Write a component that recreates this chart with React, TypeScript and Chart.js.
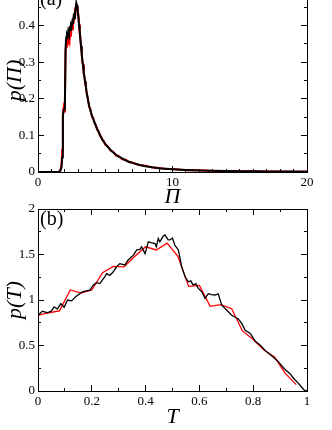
import React, { useEffect, useRef } from "react";
import { Chart, registerables } from "chart.js";
Chart.register(...registerables);

// ---------- Panel (a): p(Π) ----------
const piBlack = [0, 1.5, 1.6, 1.7, 1.75, 1.8, 1.85, 1.9, 1.95, 2.0, 2.05, 2.1, 2.15, 2.2, 2.25, 2.3, 2.35, 2.4, 2.45, 2.5, 2.55, 2.6, 2.65, 2.7, 2.75, 2.8, 2.85, 2.9, 2.95, 3.0, 3.05, 3.1, 3.15, 3.2, 3.25, 3.3, 3.35, 3.4, 3.45, 3.5, 3.55, 3.6, 3.7, 3.8, 3.9, 4.0, 4.1, 4.2, 4.3, 4.4, 4.5, 4.6, 4.7, 4.8, 4.9, 5.0, 5.2, 5.4, 5.6, 5.8, 6.0, 6.25, 6.5, 6.75, 7.0, 7.5, 8.0, 8.5, 9.0, 9.5, 10, 11, 12, 13, 14, 15, 16, 17, 18, 19, 20];
const pPiBlack = [0, 0, 0.001, 0.006, 0.015, 0.04, 0.15, 0.168, 0.172, 0.185, 0.34, 0.368, 0.375, 0.37, 0.385, 0.378, 0.392, 0.388, 0.402, 0.398, 0.412, 0.41, 0.425, 0.42, 0.438, 0.445, 0.462, 0.455, 0.44, 0.425, 0.4, 0.385, 0.36, 0.345, 0.32, 0.305, 0.29, 0.272, 0.26, 0.248, 0.235, 0.222, 0.2, 0.182, 0.168, 0.155, 0.145, 0.136, 0.126, 0.118, 0.11, 0.102, 0.094, 0.088, 0.082, 0.077, 0.068, 0.06, 0.053, 0.047, 0.042, 0.037, 0.032, 0.028, 0.025, 0.02, 0.016, 0.013, 0.0105, 0.0088, 0.0075, 0.0055, 0.0042, 0.0033, 0.0027, 0.0022, 0.0018, 0.0015, 0.0013, 0.0011, 0.001];
const piRed = piBlack;
const pPiRed = [0, 0, 0.003, 0.01, 0.02, 0.06, 0.16, 0.175, 0.165, 0.19, 0.33, 0.35, 0.34, 0.362, 0.35, 0.372, 0.36, 0.385, 0.37, 0.405, 0.39, 0.42, 0.405, 0.43, 0.445, 0.45, 0.455, 0.45, 0.43, 0.43, 0.405, 0.378, 0.37, 0.34, 0.33, 0.3, 0.295, 0.268, 0.262, 0.244, 0.238, 0.218, 0.203, 0.178, 0.171, 0.152, 0.148, 0.133, 0.129, 0.115, 0.112, 0.1, 0.096, 0.086, 0.084, 0.075, 0.07, 0.058, 0.055, 0.045, 0.044, 0.035, 0.034, 0.027, 0.026, 0.019, 0.017, 0.012, 0.011, 0.0082, 0.008, 0.005, 0.0045, 0.003, 0.0029, 0.002, 0.002, 0.0014, 0.0014, 0.001, 0.0012];

// ---------- Panel (b): p(T) ----------
const tBlack = [0, 0.016, 0.035, 0.05, 0.06, 0.072, 0.085, 0.097, 0.11, 0.125, 0.14, 0.165, 0.18, 0.193, 0.205, 0.217, 0.23, 0.248, 0.255, 0.267, 0.28, 0.292, 0.304, 0.323, 0.335, 0.348, 0.354, 0.367, 0.379, 0.385, 0.398, 0.41, 0.42, 0.435, 0.44, 0.447, 0.453, 0.465, 0.472, 0.484, 0.49, 0.5, 0.509, 0.522, 0.534, 0.547, 0.559, 0.568, 0.577, 0.587, 0.596, 0.609, 0.621, 0.633, 0.645, 0.658, 0.67, 0.683, 0.702, 0.72, 0.733, 0.745, 0.758, 0.77, 0.789, 0.807, 0.826, 0.85, 0.863, 0.876, 0.894, 0.905, 0.919, 0.937, 0.95, 0.963, 0.975, 0.99, 1.0];
const pTBlack = [0.83, 0.877, 0.86, 0.88, 0.925, 0.9, 0.96, 0.92, 1.0, 0.99, 1.035, 1.09, 1.1, 1.108, 1.163, 1.19, 1.18, 1.255, 1.29, 1.27, 1.31, 1.365, 1.4, 1.385, 1.44, 1.475, 1.49, 1.55, 1.556, 1.585, 1.51, 1.64, 1.63, 1.62, 1.585, 1.677, 1.64, 1.7, 1.714, 1.66, 1.66, 1.68, 1.6, 1.55, 1.365, 1.255, 1.2, 1.21, 1.163, 1.18, 1.127, 1.09, 1.017, 1.07, 1.06, 1.055, 1.068, 0.943, 0.888, 0.833, 0.81, 0.79, 0.74, 0.668, 0.632, 0.55, 0.503, 0.43, 0.4, 0.367, 0.32, 0.28, 0.235, 0.19, 0.14, 0.1, 0.06, 0.01, 0.0];
const tRed = [0, 0.04, 0.08, 0.12, 0.16, 0.2, 0.24, 0.28, 0.32, 0.36, 0.4, 0.44, 0.48, 0.52, 0.56, 0.6, 0.64, 0.68, 0.72, 0.76, 0.8, 0.84, 0.88, 0.92, 0.96];
const pTRed = [0.83, 0.86, 0.88, 1.11, 1.075, 1.11, 1.3, 1.37, 1.365, 1.48, 1.585, 1.55, 1.625, 1.48, 1.15, 1.16, 0.93, 0.95, 0.905, 0.66, 0.565, 0.45, 0.37, 0.19, 0.07];

const SERIF = "'Liberation Serif', 'Times New Roman', serif";
const fmt = (v: number) => String(Number(Number(v).toFixed(3)));

type PanelCfg = {
  xMin: number; xMax: number; xMajor: number; xMinor: number;
  yMin: number; yMax: number; yMajor: number; yMinor: number;
  bottomH: number; leftW: number; rightW: number; padTop: number;
  xTitle: string; yTitle: string; label: string;
};

const noPad = (s: any) => { s.paddingTop = 0; s.paddingBottom = 0; s.paddingLeft = 0; s.paddingRight = 0; };

function buildScales(c: PanelCfg) {
  const tickFont = { family: SERIF, size: 13 };
  const titleFont = { family: SERIF, size: 22, style: "italic" as const };
  const base = (pos: string, min: number, max: number, step: number, len: number, border: boolean, weight: number) => ({
    type: "linear" as const,
    position: pos,
    min, max, weight,
    ticks: { display: false, stepSize: step, autoSkip: false, maxTicksLimit: 1000 },
    grid: { drawOnChartArea: false, drawTicks: true, tickLength: len, color: "#000", tickWidth: 1 },
    border: { display: border, color: "#000", width: 1 },
  });
  const x: any = base("bottom", c.xMin, c.xMax, c.xMajor, -6, true, 1);
  x.ticks = { display: true, stepSize: c.xMajor, autoSkip: false, maxTicksLimit: 1000, maxRotation: 0, padding: 9, font: tickFont, color: "#000", callback: (v: any) => fmt(v) };
  x.title = { display: true, text: c.xTitle, font: titleFont, color: "#000", padding: 0 };
  x.afterFit = (s: any) => { s.height = c.bottomH; noPad(s); };
  const xm: any = base("bottom", c.xMin, c.xMax, c.xMinor, -3, false, 0);
  xm.afterFit = (s: any) => { s.height = 0; noPad(s); };
  const xt: any = base("top", c.xMin, c.xMax, c.xMajor, -6, true, 1);
  xt.afterFit = (s: any) => { s.height = 0; noPad(s); };
  const xtm: any = base("top", c.xMin, c.xMax, c.xMinor, -3, false, 0);
  xtm.afterFit = (s: any) => { s.height = 0; noPad(s); };

  const y: any = base("left", c.yMin, c.yMax, c.yMajor, -6, true, 1);
  y.ticks = { display: true, stepSize: c.yMajor, autoSkip: false, maxTicksLimit: 1000, padding: 9, font: tickFont, color: "#000", callback: (v: any) => fmt(v) };
  y.title = { display: true, text: c.yTitle, font: titleFont, color: "#000", padding: { top: 2, bottom: 0 } };
  y.afterFit = (s: any) => { s.width = c.leftW; noPad(s); };
  const ym: any = base("left", c.yMin, c.yMax, c.yMinor, -3, false, 0);
  ym.afterFit = (s: any) => { s.width = 0; noPad(s); };
  const yr: any = base("right", c.yMin, c.yMax, c.yMajor, -6, true, 1);
  yr.afterFit = (s: any) => { s.width = c.rightW; noPad(s); };
  const yrm: any = base("right", c.yMin, c.yMax, c.yMinor, -3, false, 0);
  yrm.afterFit = (s: any) => { s.width = 0; noPad(s); };
  return { x, xm, xt, xtm, y, ym, yr, yrm };
}

function panelLabel(text: string) {
  return {
    id: "panelLabel",
    afterDraw(chart: any) {
      const { ctx, chartArea } = chart;
      ctx.save();
      ctx.font = `20px ${SERIF}`;
      ctx.fillStyle = "#000";
      ctx.textBaseline = "top";
      ctx.textAlign = "left";
      ctx.fillText(text, chartArea.left + 2, chartArea.top + 1);
      ctx.restore();
    },
  };
}

function Panel(props: { cfg: PanelCfg; top: number; height: number; black: { x: number[]; y: number[] }; red: { x: number[]; y: number[] }; lw: number }) {
  const ref = useRef<HTMLCanvasElement | null>(null);
  useEffect(() => {
    const c = props.cfg;
    const toPts = (xs: number[], ys: number[]) => xs.map((v, i) => ({ x: v, y: ys[i] }));
    const chart = new Chart(ref.current as HTMLCanvasElement, {
      type: "line",
      data: {
        datasets: [
          { data: toPts(props.black.x, props.black.y), borderColor: "#000", borderWidth: props.lw, pointRadius: 0, tension: 0, xAxisID: "x", yAxisID: "y" },
          { data: toPts(props.red.x, props.red.y), borderColor: "#ff0000", borderWidth: props.lw, pointRadius: 0, tension: 0, xAxisID: "x", yAxisID: "y" },
        ],
      },
      options: {
        animation: false,
        responsive: false,
        maintainAspectRatio: false,
        layout: { padding: { top: c.padTop, left: 0, right: 0, bottom: 0 } },
        plugins: { legend: { display: false }, tooltip: { enabled: false } },
        scales: buildScales(c) as any,
      },
      plugins: [panelLabel(c.label)],
    });
    return () => chart.destroy();
  }, []);
  return (
    <canvas
      ref={ref}
      width={332}
      height={props.height}
      style={{ position: "absolute", left: 0, top: props.top, width: 332, height: props.height }}
    />
  );
}

const cfgA: PanelCfg = {
  xMin: 0, xMax: 20, xMajor: 10, xMinor: 1,
  yMin: 0, yMax: 0.5, yMajor: 0.1, yMinor: 0.05,
  bottomH: 38, leftW: 38, rightW: 25, padTop: 0,
  xTitle: "Π", yTitle: "p(Π)", label: "(a)",
};
const cfgB: PanelCfg = {
  xMin: 0, xMax: 1, xMajor: 0.2, xMinor: 0.1,
  yMin: 0, yMax: 2, yMajor: 0.5, yMinor: 0.25,
  bottomH: 39, leftW: 38, rightW: 25, padTop: 9,
  xTitle: "T", yTitle: "p(T)", label: "(b)",
};

export default function App() {
  return (
    <div style={{ position: "fixed", left: 0, top: 0, width: 332, height: 430, overflow: "hidden", background: "#fff" }}>
      <Panel cfg={cfgA} top={-11} height={221} black={{ x: piBlack, y: pPiBlack }} red={{ x: piRed, y: pPiRed }} lw={2} />
      <Panel cfg={cfgB} top={200} height={230} black={{ x: tBlack, y: pTBlack }} red={{ x: tRed, y: pTRed }} lw={1.3} />
    </div>
  );
}
